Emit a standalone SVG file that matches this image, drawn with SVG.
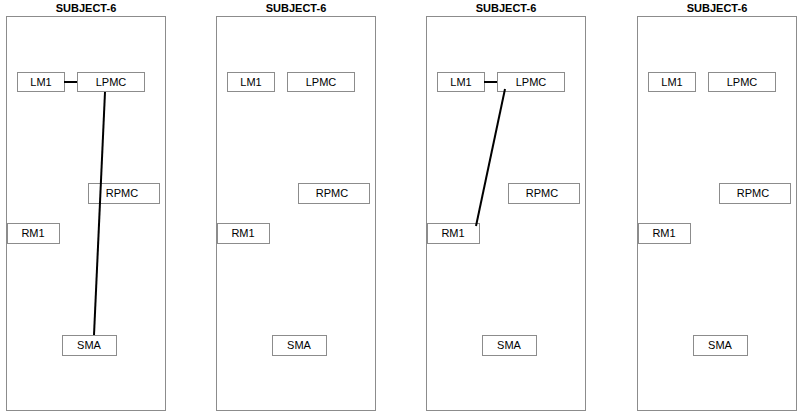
<svg xmlns="http://www.w3.org/2000/svg" width="798" height="413" viewBox="0 0 798 413">
<style>
.panel{fill:#fff;stroke:#8c8c8c;stroke-width:1}
.box{fill:#fff;stroke:#8c8c8c;stroke-width:1}
.t{font-family:"Liberation Sans",Arial,sans-serif;font-size:11px;fill:#000;text-anchor:middle}
.title{font-family:"Liberation Sans",Arial,sans-serif;font-size:11px;font-weight:bold;fill:#000;text-anchor:middle}
.edge{stroke:#000;stroke-width:2;fill:none}
</style>
<defs>
<g id="panel">
<rect class="panel" x="6.5" y="16.5" width="159" height="394"/>
<text class="title" x="86" y="12">SUBJECT-6</text>
</g>
</defs>
<rect width="798" height="413" fill="#fff"/>
<g id="panels">
<use href="#panel"/>
<use href="#panel" x="210"/>
<use href="#panel" x="420"/>
<use href="#panel" x="631"/>
</g>
<g id="p1">
<g id="p1-LM1"><rect class="box" x="17.5" y="72.5" width="47" height="19"/><text class="t" x="41" y="86">LM1</text></g>
<g id="p1-LPMC"><rect class="box" x="77.5" y="72.5" width="67" height="19"/><text class="t" x="111" y="86">LPMC</text></g>
<g id="p1-RPMC"><rect class="box" x="88.5" y="183.5" width="71" height="20"/><text class="t" x="122" y="197">RPMC</text></g>
<g id="p1-RM1"><rect class="box" x="7.5" y="223.5" width="52" height="20"/><text class="t" x="33" y="237">RM1</text></g>
<g id="p1-SMA"><rect class="box" x="62.5" y="335.5" width="54" height="20"/><text class="t" x="89" y="349">SMA</text></g>
</g>
<g id="p2" transform="translate(210,0)">
<g id="p2-LM1"><rect class="box" x="17.5" y="72.5" width="47" height="19"/><text class="t" x="41" y="86">LM1</text></g>
<g id="p2-LPMC"><rect class="box" x="77.5" y="72.5" width="67" height="19"/><text class="t" x="111" y="86">LPMC</text></g>
<g id="p2-RPMC"><rect class="box" x="88.5" y="183.5" width="71" height="20"/><text class="t" x="122" y="197">RPMC</text></g>
<g id="p2-RM1"><rect class="box" x="7.5" y="223.5" width="52" height="20"/><text class="t" x="33" y="237">RM1</text></g>
<g id="p2-SMA"><rect class="box" x="62.5" y="335.5" width="54" height="20"/><text class="t" x="89" y="349">SMA</text></g>
</g>
<g id="p3" transform="translate(420,0)">
<g id="p3-LM1"><rect class="box" x="17.5" y="72.5" width="47" height="19"/><text class="t" x="41" y="86">LM1</text></g>
<g id="p3-LPMC"><rect class="box" x="77.5" y="72.5" width="67" height="19"/><text class="t" x="111" y="86">LPMC</text></g>
<g id="p3-RPMC"><rect class="box" x="88.5" y="183.5" width="71" height="20"/><text class="t" x="122" y="197">RPMC</text></g>
<g id="p3-RM1"><rect class="box" x="7.5" y="223.5" width="52" height="20"/><text class="t" x="33" y="237">RM1</text></g>
<g id="p3-SMA"><rect class="box" x="62.5" y="335.5" width="54" height="20"/><text class="t" x="89" y="349">SMA</text></g>
</g>
<g id="p4" transform="translate(631,0)">
<g id="p4-LM1"><rect class="box" x="17.5" y="72.5" width="47" height="19"/><text class="t" x="41" y="86">LM1</text></g>
<g id="p4-LPMC"><rect class="box" x="77.5" y="72.5" width="67" height="19"/><text class="t" x="111" y="86">LPMC</text></g>
<g id="p4-RPMC"><rect class="box" x="88.5" y="183.5" width="71" height="20"/><text class="t" x="122" y="197">RPMC</text></g>
<g id="p4-RM1"><rect class="box" x="7.5" y="223.5" width="52" height="20"/><text class="t" x="33" y="237">RM1</text></g>
<g id="p4-SMA"><rect class="box" x="62.5" y="335.5" width="54" height="20"/><text class="t" x="89" y="349">SMA</text></g>
</g>
<g id="connectors">
<line class="edge" x1="64" y1="82" x2="77" y2="82"/>
<line class="edge" x1="105" y1="92" x2="94" y2="335"/>
<line class="edge" x1="484" y1="82" x2="497" y2="82"/>
<line class="edge" x1="505" y1="89" x2="476" y2="226"/>
</g>
</svg>
